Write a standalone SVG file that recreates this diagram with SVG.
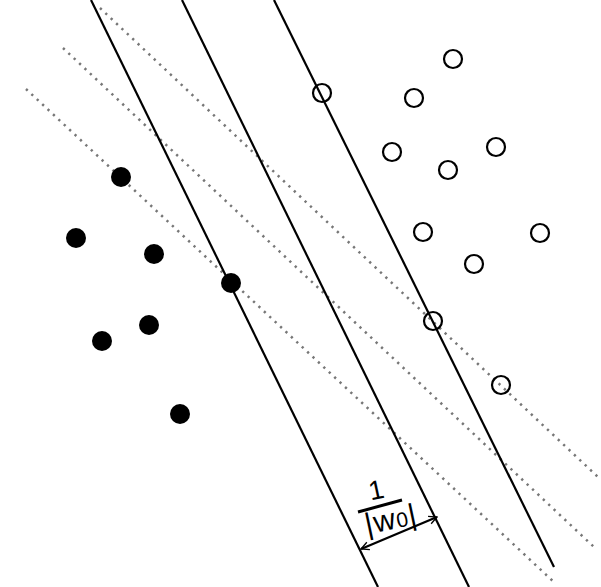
<svg xmlns="http://www.w3.org/2000/svg" width="601" height="587" viewBox="0 0 601 587">
<style>
.solid{stroke:#000;stroke-width:2.2;fill:none}
.dot{stroke:#777;stroke-width:2.5;fill:none;stroke-dasharray:2.3 5.1}
.pos{fill:#000}
.neg{fill:none;stroke:#000;stroke-width:2.2}
.lbl{font-family:"Liberation Sans",Arial,sans-serif;fill:#000}
</style>
<defs>
<marker id="ah" viewBox="0 0 10 10" refX="9" refY="5" markerWidth="10" markerHeight="10" markerUnits="userSpaceOnUse" orient="auto-start-reverse">
<path d="M1,1 L9,5 L1,9" fill="none" stroke="#000" stroke-width="1.3"/>
</marker>
</defs>
<rect width="601" height="587" fill="#fff"/>
<g id="connectors">
<line class="dot" x1="26" y1="89" x2="556" y2="584"/>
<line class="dot" x1="63" y1="48" x2="594" y2="547"/>
<line class="dot" x1="100" y1="8" x2="599" y2="478"/>
<line class="solid" x1="91" y1="0" x2="378" y2="587"/>
<line class="solid" x1="182" y1="0" x2="469" y2="587"/>
<line class="solid" x1="274" y1="0" x2="554" y2="567"/>
<line x1="361" y1="549" x2="437" y2="517" stroke="#000" stroke-width="2.2" marker-start="url(#ah)" marker-end="url(#ah)"/>
</g>
<g id="class-pos">
<circle class="pos" cx="121" cy="177" r="10"/>
<circle class="pos" cx="76" cy="238" r="10"/>
<circle class="pos" cx="154" cy="254" r="10"/>
<circle class="pos" cx="231" cy="283" r="10"/>
<circle class="pos" cx="149" cy="325" r="10"/>
<circle class="pos" cx="102" cy="341" r="10"/>
<circle class="pos" cx="180" cy="414" r="10"/>
</g>
<g id="class-neg">
<circle class="neg" cx="453" cy="59" r="9"/>
<circle class="neg" cx="414" cy="98" r="9"/>
<circle class="neg" cx="322" cy="93" r="9"/>
<circle class="neg" cx="392" cy="152" r="9"/>
<circle class="neg" cx="448" cy="170" r="9"/>
<circle class="neg" cx="496" cy="147" r="9"/>
<circle class="neg" cx="423" cy="232" r="9"/>
<circle class="neg" cx="540" cy="233" r="9"/>
<circle class="neg" cx="474" cy="264" r="9"/>
<circle class="neg" cx="433" cy="321" r="9"/>
<circle class="neg" cx="501" cy="385" r="9"/>
</g>
<g id="margin-label">
<text class="lbl" x="378" y="499" font-size="27" text-anchor="middle" transform="rotate(-12 378 499)">1</text>
<line x1="358" y1="512" x2="402" y2="500" stroke="#000" stroke-width="3"/>
<text class="lbl" x="393" y="529" font-size="30" text-anchor="middle" letter-spacing="1" transform="rotate(-12 393 529)">|w<tspan font-size="21">0</tspan>|</text>
</g>
</svg>
